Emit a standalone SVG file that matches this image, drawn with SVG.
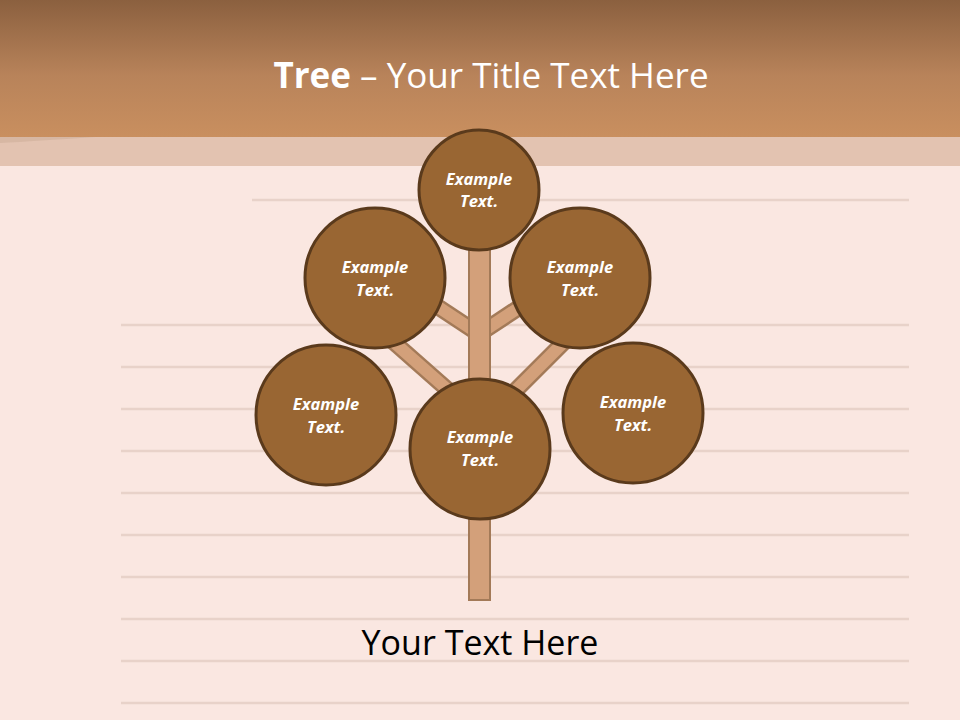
<svg xmlns="http://www.w3.org/2000/svg" width="960" height="720" viewBox="0 0 960 720">
<defs>
<linearGradient id="hdr" x1="0" y1="0" x2="0" y2="1">
<stop offset="0" stop-color="#8B603F"/>
<stop offset="0.55" stop-color="#B8835A"/>
<stop offset="1" stop-color="#C98F5F"/>
</linearGradient>
<style>
.rule{stroke:#E8D2C9;stroke-width:2.5}
.br-out{stroke:#A37A58;stroke-width:17;stroke-linecap:butt}
.br-in{stroke:#D3A07A;stroke-width:12;stroke-linecap:butt}
.node circle{fill:#996633;stroke:#5A3A1C;stroke-width:3}
.node text{font-family:"Open Sans","Liberation Sans",sans-serif;font-weight:bold;font-style:italic;font-size:16.5px;fill:#FFFFFF;text-anchor:middle}
</style>
</defs>
<rect x="0" y="0" width="960" height="720" fill="#FAE7E1"/>
<rect x="0" y="0" width="960" height="137" fill="url(#hdr)"/>
<rect x="0" y="137" width="960" height="29" fill="#E3C3B1"/>
<path d="M0,137 L95,137 Q35,141 0,143 Z" fill="#BFA08A" opacity="0.35"/>
<g id="rules">
<line class="rule" x1="252" y1="200" x2="909" y2="200"/>
<line class="rule" x1="121" y1="325" x2="909" y2="325"/>
<line class="rule" x1="121" y1="367" x2="909" y2="367"/>
<line class="rule" x1="121" y1="409" x2="909" y2="409"/>
<line class="rule" x1="121" y1="451" x2="909" y2="451"/>
<line class="rule" x1="121" y1="493" x2="909" y2="493"/>
<line class="rule" x1="121" y1="535" x2="909" y2="535"/>
<line class="rule" x1="121" y1="577" x2="909" y2="577"/>
<line class="rule" x1="121" y1="619" x2="909" y2="619"/>
<line class="rule" x1="121" y1="661" x2="909" y2="661"/>
<line class="rule" x1="121" y1="703" x2="909" y2="703"/>
</g>
<text x="491" y="88" font-family="'Open Sans','Liberation Sans',sans-serif" font-size="35" fill="#FFFFFF" text-anchor="middle"><tspan font-weight="bold">Tree</tspan> – Your Title Text Here</text>
<g id="connectors">
<line class="br-out" x1="420" y1="295" x2="479" y2="334"/>
<line class="br-in" x1="420" y1="295" x2="479" y2="334"/>
<line class="br-out" x1="538" y1="295" x2="479" y2="334"/>
<line class="br-in" x1="538" y1="295" x2="479" y2="334"/>
<line class="br-out" x1="380" y1="330" x2="465" y2="405"/>
<line class="br-in" x1="380" y1="330" x2="465" y2="405"/>
<line class="br-out" x1="580" y1="326" x2="495" y2="411"/>
<line class="br-in" x1="580" y1="326" x2="495" y2="411"/>
<rect x="469" y="240" width="21" height="360" fill="#D3A07A" stroke="#A37A58" stroke-width="2"/>
</g>
<g id="node-top" class="node"><circle cx="479" cy="190" r="60"/><text x="479" y="185">Example</text><text x="479" y="207">Text.</text></g>
<g id="node-upper-left" class="node"><circle cx="375" cy="278" r="70"/><text x="375" y="273">Example</text><text x="375" y="296">Text.</text></g>
<g id="node-upper-right" class="node"><circle cx="580" cy="278" r="70"/><text x="580" y="273">Example</text><text x="580" y="296">Text.</text></g>
<g id="node-lower-left" class="node"><circle cx="326" cy="415" r="70"/><text x="326" y="410">Example</text><text x="326" y="433">Text.</text></g>
<g id="node-lower-right" class="node"><circle cx="633" cy="413" r="70"/><text x="633" y="408">Example</text><text x="633" y="431">Text.</text></g>
<g id="node-center" class="node"><circle cx="480" cy="449" r="70"/><text x="480" y="443">Example</text><text x="480" y="466">Text.</text></g>
<text x="480" y="655" font-family="'Open Sans','Liberation Sans',sans-serif" font-size="34" fill="#000000" text-anchor="middle">Your Text Here</text>
</svg>
